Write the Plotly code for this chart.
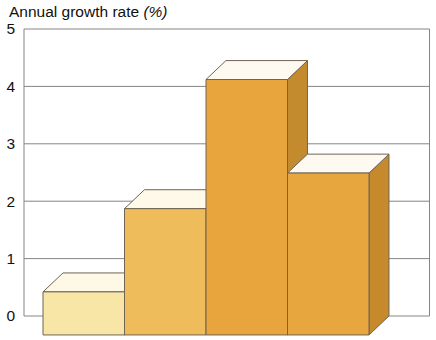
import plotly.graph_objects as go

# ---- data ----
categories = ["A", "B", "C", "D"]
values = [0.75, 2.2, 4.45, 2.82]
tick_vals = [0, 1, 2, 3, 4, 5]
tick_text = ["0", "1", "2", "3", "4", "5"]
title_text = "Annual growth rate <i>(%)</i>"

# ---- style ----
front_colors = ["#f7e6a6", "#efbc5c", "#e8a53e", "#e8a63f"]
top_colors = ["#fef9e6", "#fef9e8", "#fefaf2", "#fefaf2"]
side_colors = ["#d9c27e", "#cf9a40", "#c48a2e", "#c68a2d"]
edge_color = "#6f6455"
grid_color = "#858585"

DX = 0.245   # depth offset (x units)
DY = 0.33    # depth offset (y units)

W, H = 436, 340
ml, mr, mt, mb = 18, 2, 22, 2
px_per_x = 81.5
px_per_y = 57.4
x_min = (ml - 43) / px_per_x
x_max = x_min + (W - ml - mr) / px_per_x
y_max = (316 - mt) / px_per_y
y_min = (316 - (H - mb)) / px_per_y
wall_x0 = (24 - 43) / px_per_x
wall_x1 = (429.5 - 43) / px_per_x

fig = go.Figure()

def poly(xs, ys, color):
    fig.add_trace(go.Scatter(
        x=xs + [xs[0]], y=ys + [ys[0]], mode="lines", fill="toself",
        fillcolor=color, line=dict(color=edge_color, width=1),
        hoverinfo="skip", showlegend=False))

for i, v in enumerate(values):
    x0, x1 = i, i + 1
    # side face
    poly([x1, x1 + DX, x1 + DX, x1], [-DY, 0, v, v - DY], side_colors[i])
    # top face
    poly([x0, x1, x1 + DX, x0 + DX], [v - DY, v - DY, v, v], top_colors[i])
    # front face
    poly([x0, x1, x1, x0], [-DY, -DY, v - DY, v - DY], front_colors[i])

shapes = [dict(type="rect", xref="x", yref="y", x0=wall_x0, x1=wall_x1,
               y0=0, y1=max(tick_vals), fillcolor="white",
               line=dict(color=grid_color, width=1), layer="below")]
for t in tick_vals[1:-1]:
    shapes.append(dict(type="line", xref="x", yref="y", x0=wall_x0, x1=wall_x1,
                       y0=t, y1=t, line=dict(color=grid_color, width=1),
                       layer="below"))

fig.update_layout(
    width=W, height=H,
    margin=dict(l=ml, r=mr, t=mt, b=mb),
    paper_bgcolor="white", plot_bgcolor="white",
    shapes=shapes,
    xaxis=dict(range=[x_min, x_max], visible=False, fixedrange=True),
    yaxis=dict(range=[y_min, y_max], tickvals=tick_vals, ticktext=tick_text,
               showgrid=False, zeroline=False, showline=False,
               ticks="", ticklabelstandoff=2,
               tickfont=dict(family="Liberation Sans, Arial", size=15.5, color="#111")),
    annotations=[dict(text=title_text, xref="paper", yref="paper",
                      x=(7 - ml) / (W - ml - mr), y=(H - mb - 11) / (H - mt - mb),
                      xanchor="left", yanchor="middle", showarrow=False,
                      font=dict(family="Liberation Sans, Arial", size=15.5, color="#111"))],
)

fig.write_html("out.html")
